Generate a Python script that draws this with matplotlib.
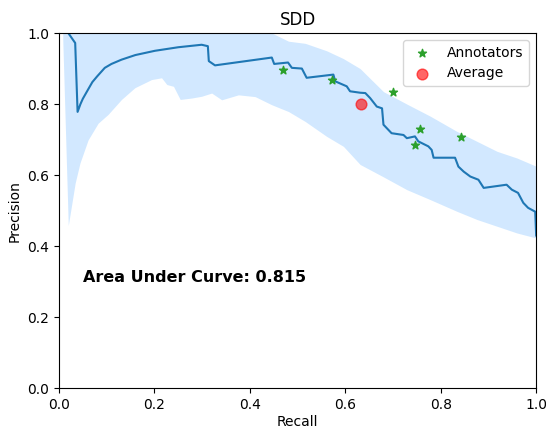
import numpy as np
import matplotlib
matplotlib.use("Agg")
import matplotlib.pyplot as plt

# mean precision-recall curve
recall = [0.0195, 0.034, 0.039, 0.045, 0.05, 0.061, 0.07, 0.08, 0.096, 0.11, 0.131, 0.16,
          0.201, 0.25, 0.299, 0.312, 0.314, 0.327, 0.446, 0.451, 0.480, 0.488, 0.509,
          0.519, 0.575, 0.579, 0.603, 0.610, 0.631, 0.642, 0.652, 0.666, 0.677, 0.680,
          0.697, 0.722, 0.729, 0.746, 0.753, 0.774, 0.781, 0.785, 0.830, 0.837, 0.848,
          0.862, 0.879, 0.890, 0.938, 0.949, 0.962, 0.973, 0.983, 0.998, 1.0]
precision = [1.0, 0.972, 0.778, 0.80, 0.815, 0.841, 0.862, 0.878, 0.902, 0.913, 0.925, 0.938,
             0.950, 0.960, 0.967, 0.963, 0.921, 0.909, 0.931, 0.913, 0.917, 0.902, 0.900,
             0.874, 0.883, 0.864, 0.850, 0.836, 0.832, 0.831, 0.817, 0.793, 0.788, 0.742,
             0.718, 0.713, 0.704, 0.709, 0.695, 0.681, 0.671, 0.649, 0.649, 0.624, 0.610,
             0.596, 0.587, 0.564, 0.573, 0.559, 0.550, 0.522, 0.508, 0.497, 0.43]

# spread band
band_recall = [0.008, 0.0195, 0.034, 0.044, 0.061, 0.082, 0.103, 0.131, 0.159, 0.194, 0.215,
               0.226, 0.240, 0.254, 0.278, 0.299, 0.320, 0.341, 0.376, 0.411, 0.446, 0.481,
               0.516, 0.561, 0.596, 0.631, 0.680, 0.729, 0.778, 0.834, 0.876, 0.918, 0.960, 1.0]
band_lower = [0.98, 0.458, 0.578, 0.634, 0.699, 0.746, 0.771, 0.813, 0.846, 0.869, 0.874,
              0.855, 0.850, 0.813, 0.817, 0.822, 0.831, 0.812, 0.826, 0.821, 0.798, 0.779,
              0.751, 0.709, 0.681, 0.630, 0.595, 0.559, 0.531, 0.498, 0.475, 0.456, 0.437, 0.423]
band_upper = [1.05, 1.05, 1.05, 1.05, 1.05, 1.05, 1.05, 1.05, 1.05, 1.05, 1.05,
              1.05, 1.05, 1.05, 1.05, 1.05, 1.05, 1.05, 1.05, 1.05, 1.0, 0.977,
              0.971, 0.950, 0.928, 0.900, 0.835, 0.800, 0.766, 0.723, 0.695, 0.667, 0.648, 0.625]

# annotators and their average
ann_recall = [0.470, 0.573, 0.699, 0.757, 0.746, 0.842]
ann_precision = [0.897, 0.867, 0.833, 0.731, 0.685, 0.707]
avg_recall = 0.632
avg_precision = 0.800
auc = 0.815

fig = plt.figure(figsize=(5.46, 4.29), dpi=100)
ax = fig.add_axes([0.108, 0.095, 0.874, 0.828])

ax.fill_between(band_recall, band_lower, band_upper, color="dodgerblue", alpha=0.2, linewidth=0)
ax.plot(recall, precision, color="#1f77b4", linewidth=1.5)
ax.scatter(ann_recall, ann_precision, marker="*", color="#2ca02c", s=36, label="Annotators", zorder=3)
ax.scatter([avg_recall], [avg_precision], marker="o", color="red", alpha=0.6, s=60, label="Average", zorder=3)

ax.text(0.05, 0.3, "Area Under Curve: %.3f" % auc, fontsize=11.5, fontweight="bold")

ax.set_xlim(0, 1)
ax.set_ylim(0, 1)
ax.set_xlabel("Recall", labelpad=2)
ax.set_ylabel("Precision")
ax.set_title("SDD")
ax.legend(loc="upper right")

fig.savefig("out.png", dpi=100)
